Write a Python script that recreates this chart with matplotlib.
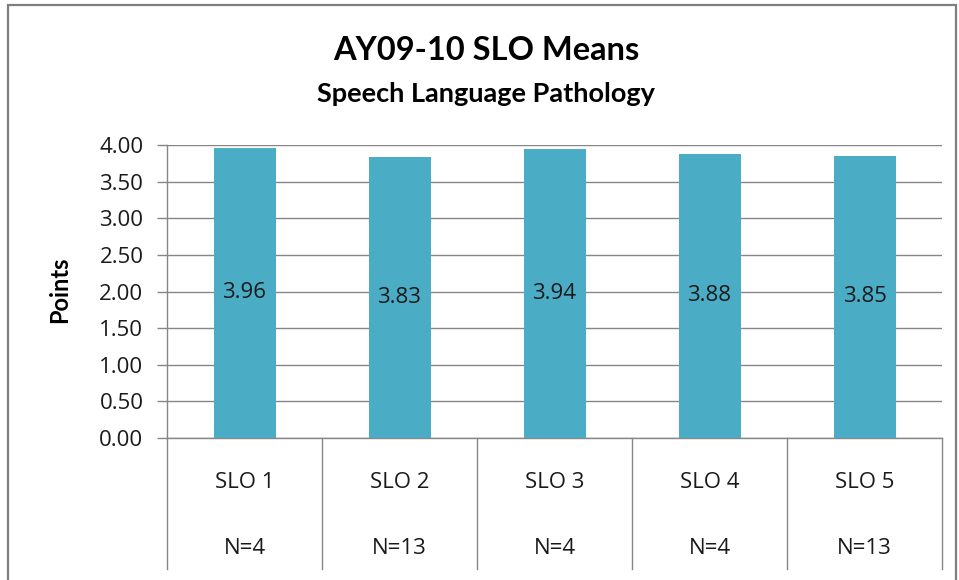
import matplotlib.pyplot as plt
from matplotlib.patches import Rectangle
from matplotlib.transforms import blended_transform_factory

categories = ["SLO 1", "SLO 2", "SLO 3", "SLO 4", "SLO 5"]
counts = ["N=4", "N=13", "N=4", "N=4", "N=13"]
means = [3.96, 3.83, 3.94, 3.88, 3.85]
yticks = [0.0, 0.5, 1.0, 1.5, 2.0, 2.5, 3.0, 3.5, 4.0]

bar_color = "#4BACC6"
grid_color = "#868686"
text_color = "#1a1a1a"
FONT = "Open Sans"

W, H = 959, 580
fig = plt.figure(figsize=(W / 100, H / 100), dpi=100)

# outer chart frame
fig.patches.append(Rectangle((8 / W, -0.05), (956 - 8) / W, 1.05 - 5 / H,
                             transform=fig.transFigure, fill=False,
                             edgecolor="#7f7f7f", linewidth=1.6))

# plot area in pixels: left 167, right 942, top 145, bottom 438
ax = fig.add_axes([167 / W, 1 - 438 / H, (942 - 167) / W, (438 - 145) / H])

x = list(range(len(categories)))
ax.bar(x, means, width=0.4, color=bar_color, zorder=3)

for xi, v in zip(x, means):
    ax.text(xi, v / 2, f"{v:.2f}", ha="center", va="center",
            fontsize=16, family=FONT, color=text_color, zorder=4)

ax.set_xlim(-0.5, len(categories) - 0.5)
ax.set_ylim(0, 4)
ax.set_yticks(yticks)
ax.set_yticklabels([f"{t:.2f}" for t in yticks], family=FONT,
                   fontsize=16, color=text_color)
ax.tick_params(axis="y", direction="out", length=7, width=1,
               color=grid_color, pad=10)
ax.tick_params(axis="x", bottom=False, labelbottom=False)
ax.grid(axis="y", color=grid_color, linewidth=1, zorder=0)

for side in ["top", "right"]:
    ax.spines[side].set_visible(False)
for side in ["left", "bottom"]:
    ax.spines[side].set_color(grid_color)
    ax.spines[side].set_linewidth(1)

# multi-level category axis below the plot
trans = blended_transform_factory(ax.transData, ax.transAxes)
bottom_frac = -(569 - 438) / (438 - 145)
for b in [i - 0.5 for i in range(len(categories) + 1)]:
    ax.plot([b, b], [0, bottom_frac], color=grid_color, linewidth=1,
            transform=trans, clip_on=False)
for xi, cat, n in zip(x, categories, counts):
    ax.text(xi, -(483 - 438) / 293, cat, ha="center", va="center",
            fontsize=16, family=FONT, color=text_color, transform=trans)
    ax.text(xi, -(548 - 438) / 293, n, ha="center", va="center",
            fontsize=16, family=FONT, color=text_color, transform=trans)

fig.text(60 / W, 1 - 290 / H, "Points", rotation=90, ha="center", va="center",
         fontsize=17, fontweight="bold", family="Lato", color="black")
fig.text(486 / W, 1 - 50 / H, "AY09-10 SLO Means", ha="center", va="center",
         fontsize=23.5, fontweight="bold", family="Lato", color="black")
fig.text(486 / W, 1 - 94 / H, "Speech Language Pathology", ha="center",
         va="center", fontsize=19.5, fontweight="bold", family="Lato",
         color="black")

fig.savefig("out.png", dpi=100)
